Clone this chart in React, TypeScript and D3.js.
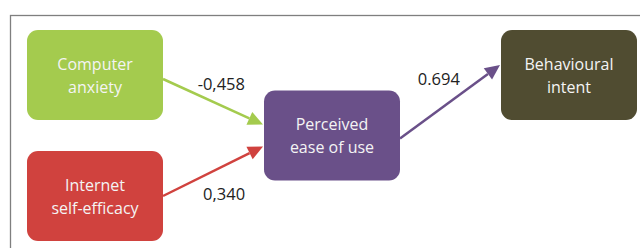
import React from 'react';
import * as d3 from 'd3';

// path model: constructs and standardized coefficients
const nodeNames = ['Computer anxiety', 'Internet self-efficacy', 'Perceived ease of use', 'Behavioural intent'];
const nodeLines = [['Computer', 'anxiety'], ['Internet', 'self-efficacy'], ['Perceived', 'ease of use'], ['Behavioural', 'intent']];
const nodeColors = ['#a4cb4e', '#d0423e', '#6a5089', '#504c31'];
const edgeSources = ['Computer anxiety', 'Internet self-efficacy', 'Perceived ease of use'];
const edgeTargets = ['Perceived ease of use', 'Perceived ease of use', 'Behavioural intent'];
const edgeLabels = ['-0,458', '0,340', '0.694'];

// layout (column, row) per node
const nodeCol = [0, 0, 1, 2];
const nodeRow = [0, 2, 1, 0];

const width = 640;
const height = 248;
const boxW = 136;
const boxH = 90;

const App: React.FC = () => {
  const x = d3.scaleLinear().domain([0, 2]).range([27, 501]);
  const y = d3.scaleLinear().domain([0, 2]).range([30, 151]);

  const nodes = nodeNames.map((name, i) => ({
    name,
    lines: nodeLines[i],
    color: nodeColors[i],
    x: x(nodeCol[i]),
    y: y(nodeRow[i]),
  }));
  const byName = new Map(nodes.map(n => [n.name, n]));

  const edges = edgeSources.map((s, i) => {
    const a = byName.get(s)!;
    const b = byName.get(edgeTargets[i])!;
    const toLast = nodeCol[nodeNames.indexOf(edgeTargets[i])] === 2;
    const dy = (b.y - a.y);
    const x1 = a.x + boxW;
    const y1 = a.y + boxH / 2 + (dy < 0 && a.y > 100 ? 0 : dy > 0 ? 4 : 3);
    const x2 = b.x - 1;
    const y2 = toLast ? b.y + boxH / 2 - 10 : b.y + boxH / 2 - dy * 0.18;
    const len = Math.hypot(x2 - x1, y2 - y1);
    const ux = (x2 - x1) / len;
    const uy = (y2 - y1) / len;
    const headL = 15;
    const headW = 7;
    const bx = x2 - ux * headL;
    const by = y2 - uy * headL;
    const head = [
      [x2, y2],
      [bx - uy * headW, by + ux * headW],
      [bx + uy * headW, by - ux * headW],
    ];
    // label on the outer side of the arrow
    const below = a.y > b.y && !toLast;
    const mx = (x1 + x2) / 2;
    const my = (y1 + y2) / 2;
    let nx = uy, ny = -ux;
    if (ny > 0) { nx = -nx; ny = -ny; }
    const d = below ? -25 : toLast ? 29 : 20;
    return {
      color: a.color,
      x1, y1, bx, by,
      head: head.map(p => p.join(',')).join(' '),
      label: edgeLabels[i],
      lx: mx + nx * d + (toLast ? 6 : 0),
      ly: my + ny * d,
    };
  });

  return (
    <svg width={width} height={height} style={{ position: 'absolute', left: 0, top: 0 }}
      fontFamily="'Open Sans', sans-serif">
      <rect x={10.5} y={15.5} width={width} height={height} fill="#fff" stroke="#7f7f7f" strokeWidth={1.3} />
      {nodes.map(n => (
        <g key={n.name}>
          <rect x={n.x} y={n.y} width={boxW} height={boxH} rx={11} fill={n.color} />
          {n.lines.map((t, j) => (
            <text key={j} x={n.x + boxW / 2} y={n.y + boxH / 2 + (j - 0.5) * 23}
              textAnchor="middle" dominantBaseline="central" fill="#f4f4f4" fontSize={16}>{t}</text>
          ))}
        </g>
      ))}
      {edges.map((e, i) => (
        <g key={i}>
          <line x1={e.x1} y1={e.y1} x2={e.bx} y2={e.by} stroke={e.color} strokeWidth={2.5} />
          <polygon points={e.head} fill={e.color} />
          <text x={e.lx} y={e.ly} textAnchor="middle" dominantBaseline="central" fill="#222" fontSize={16.5}>{e.label}</text>
        </g>
      ))}
    </svg>
  );
};

export default App;
